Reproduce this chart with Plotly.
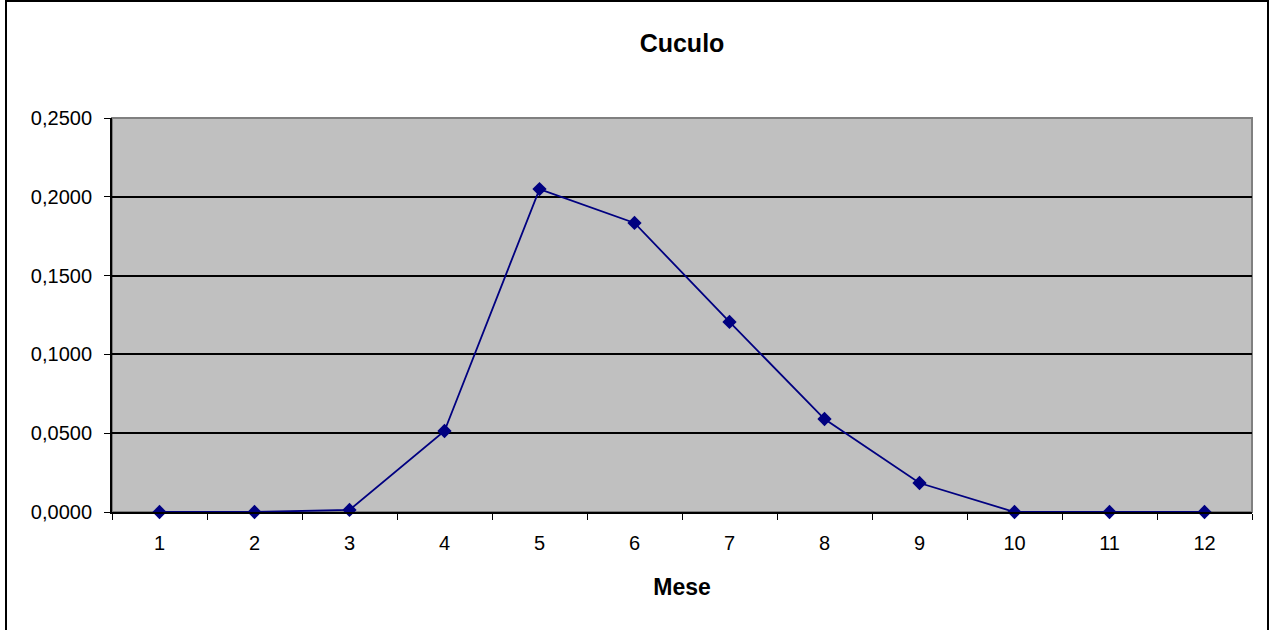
import plotly.graph_objects as go

months = ["1", "2", "3", "4", "5", "6", "7", "8", "9", "10", "11", "12"]
values = [0.0, 0.0, 0.0013, 0.0514, 0.2049, 0.1834, 0.1206, 0.0590, 0.0184, 0.0, 0.0, 0.0]
y_ticks = [0, 0.05, 0.10, 0.15, 0.20, 0.25]
y_tick_labels = ["0,0000", "0,0500", "0,1000", "0,1500", "0,2000", "0,2500"]

W, H = 1271, 630
L, R, T, B = 112, 19, 118, 118
pw, ph = W - L - R, H - T - B

def px(x):
    return (x - L) / pw

def py(y):
    return (H - B - y) / ph

fig = go.Figure()
fig.add_trace(go.Scatter(
    x=months, y=values, mode="lines+markers",
    line=dict(color="#000080", width=1.8),
    marker=dict(symbol="diamond", size=11, color="#000080"),
    showlegend=False, cliponaxis=False,
))

fig.update_layout(
    width=W, height=H,
    margin=dict(l=L, r=R, t=T, b=B),
    paper_bgcolor="white",
    plot_bgcolor="#C0C0C0",
    font=dict(family="Arial, Liberation Sans, sans-serif", size=20, color="black"),
    title=dict(text="<b>Cuculo</b>", x=0.5, xref="paper", xanchor="center",
               y=1 - 43 / H, yanchor="middle", font=dict(size=25)),
    xaxis=dict(
        type="category", tickson="boundaries", ticks="outside", ticklen=6,
        tickcolor="black", showline=True, linecolor="black", linewidth=2,
        showgrid=False, range=[-0.5, 11.5], ticklabelstandoff=12,
        title=dict(text="<b>Mese</b>", font=dict(size=23), standoff=26),
    ),
    yaxis=dict(
        range=[0, 0.25], tickvals=y_ticks, ticktext=y_tick_labels,
        ticks="outside", ticklen=6, tickcolor="black", ticklabelstandoff=8,
        showline=True, linecolor="black", linewidth=2,
        showgrid=True, gridcolor="black", gridwidth=1.6, zeroline=False,
    ),
    shapes=[
        dict(type="rect", xref="paper", yref="paper", x0=0, x1=1, y0=0, y1=1,
             line=dict(color="#808080", width=2), layer="below"),
        dict(type="rect", xref="paper", yref="paper",
             x0=px(6), x1=px(1268), y0=py(633), y1=py(1),
             line=dict(color="black", width=2)),
    ],
)

fig.write_html("out.html", config={"displayModeBar": False},
               post_script="document.body.style.margin='0';document.body.style.overflow='hidden';")
